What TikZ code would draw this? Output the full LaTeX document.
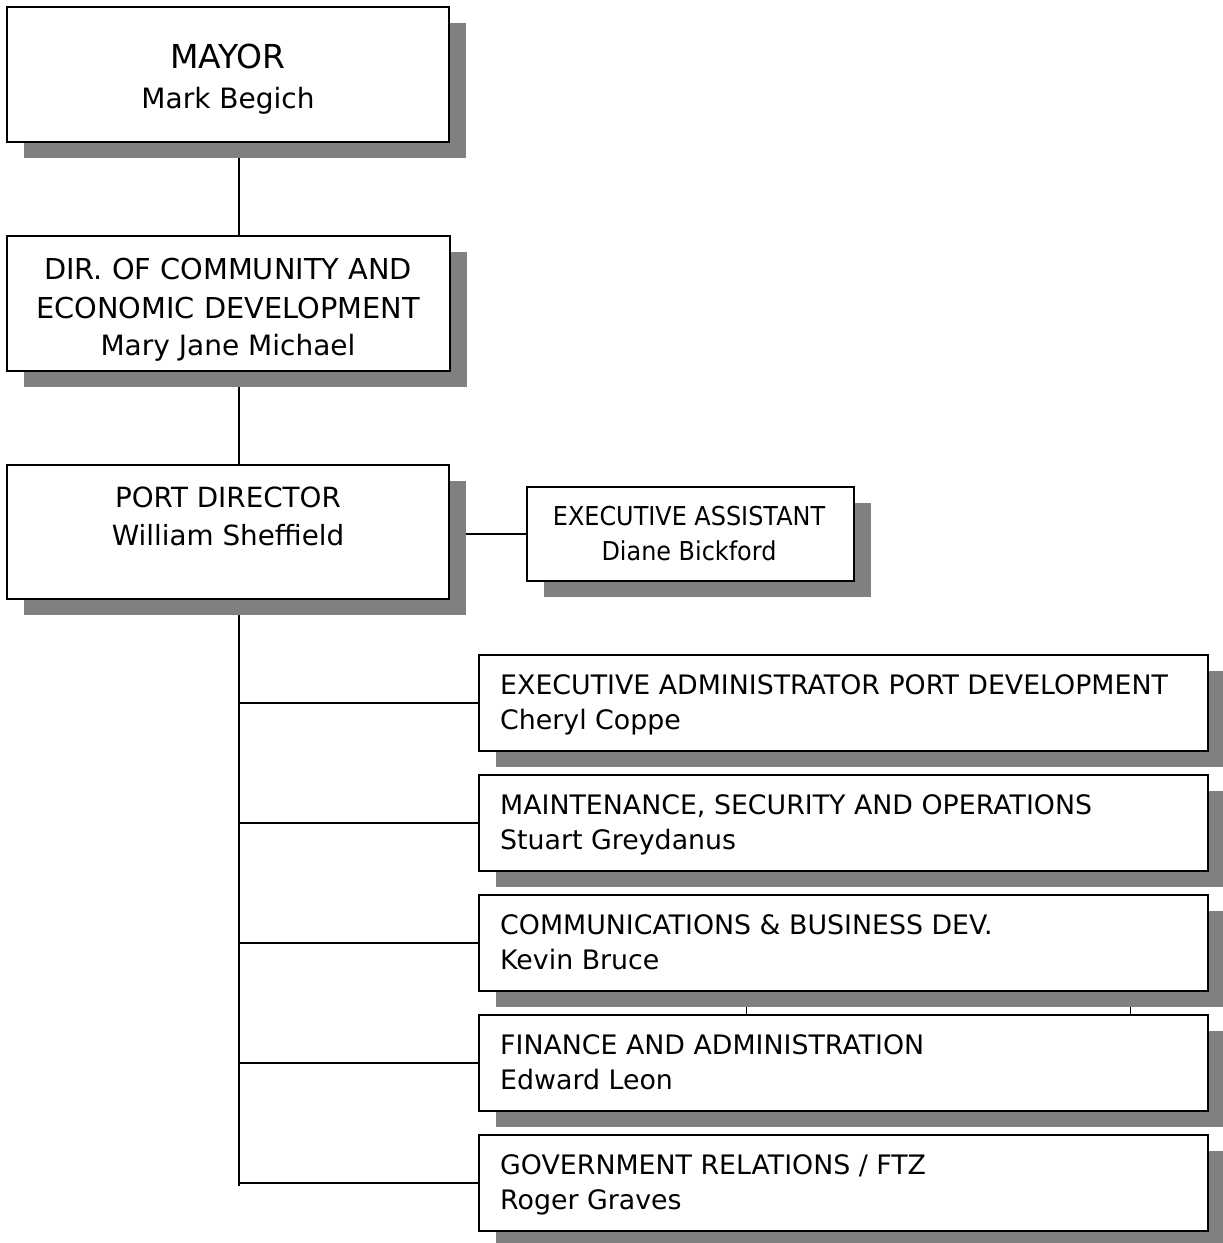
\documentclass[tikz,border=0pt]{standalone}
\usepackage{fontspec}
\setmainfont{DejaVu Sans}
\newfontfamily\narrowfont[FakeStretch=0.92]{DejaVu Sans}
\usetikzlibrary{shadows}
\pgfdeclarelayer{background}
\pgfsetlayers{background,main}
\definecolor{shgray}{HTML}{808080}
\tikzset{
  box/.style={draw=black, line width=1.6pt, fill=white, rectangle, inner sep=0pt,
    drop shadow={shadow xshift=17pt, shadow yshift=-16pt, fill=shgray, opacity=1}},
  conn/.style={line width=1.6pt, draw=black},
  thinconn/.style={line width=1pt, draw=black},
  toptxt/.style={font=\fontsize{28.8}{35}\selectfont, inner sep=0pt, anchor=base},
  porttxt/.style={font=\fontsize{27.8}{33}\selectfont, inner sep=0pt, anchor=base},
  mayortxt/.style={font=\fontsize{33}{40}\selectfont, inner sep=0pt, anchor=base},
  nametxt/.style={font=\fontsize{28}{33}\selectfont, inner sep=0pt, anchor=base},
  asstxt/.style={font=\narrowfont\fontsize{26}{31}\selectfont, inner sep=0pt, anchor=base},
  righttxt/.style={font=\fontsize{26.8}{32}\selectfont, inner sep=0pt, anchor=base west},
  rbox/.style={box, minimum width=729pt, minimum height=96pt}
}
\begin{document}
\begin{tikzpicture}[x=1pt,y=-1pt]
\useasboundingbox (0,0) rectangle (1223,1243);

% boxes
\node[box, minimum width=442pt, minimum height=135pt] (mayor) at (228,74.5) {};
\node[box, minimum width=443pt, minimum height=135pt] (dir) at (228.5,303.5) {};
\node[box, minimum width=442pt, minimum height=134pt] (port) at (228,532) {};
\node[box, minimum width=327pt, minimum height=94pt] (assist) at (690.5,534) {};
\node[rbox] (r1) at (843.5,703) {};
\node[rbox] (r2) at (843.5,823) {};
\node[rbox] (r3) at (843.5,943) {};
\node[rbox, line width=2.4pt] (r4) at (843.5,1063) {};
\node[rbox] (r5) at (843.5,1183) {};

% texts
\node[mayortxt] (mayorA) at (228,68) {MAYOR};
\node[nametxt] (mayorB) at (228,108) {Mark Begich};
\node[toptxt] (dirA) at (228,279) {DIR. OF COMMUNITY AND};
\node[toptxt] (dirB) at (228,318) {ECONOMIC DEVELOPMENT};
\node[nametxt] (dirC) at (228,355) {Mary Jane Michael};
\node[porttxt] (portA) at (228,507) {PORT DIRECTOR};
\node[porttxt] (portB) at (228,545) {William Sheffield};
\node[asstxt] (assA) at (689,525) {EXECUTIVE ASSISTANT};
\node[asstxt] (assB) at (689,560) {Diane Bickford};
\node[righttxt] (r1A) at (500,694) {EXECUTIVE ADMINISTRATOR PORT DEVELOPMENT};
\node[righttxt] (r1B) at (500,729) {Cheryl Coppe};
\node[righttxt] (r2A) at (500,814) {MAINTENANCE, SECURITY AND OPERATIONS};
\node[righttxt] (r2B) at (500,849) {Stuart Greydanus};
\node[righttxt] (r3A) at (500,934) {COMMUNICATIONS \& BUSINESS DEV.};
\node[righttxt] (r3B) at (500,969) {Kevin Bruce};
\node[righttxt] (r4A) at (500,1054) {FINANCE AND ADMINISTRATION};
\node[righttxt] (r4B) at (500,1089) {Edward Leon};
\node[righttxt] (r5A) at (500,1174) {GOVERNMENT RELATIONS / FTZ};
\node[righttxt] (r5B) at (500,1209) {Roger Graves};

% connectors
\coordinate (spx) at (239,0);
\coordinate (spend) at (239,1186);
\coordinate (tA) at (746,0);
\coordinate (tB) at (1130,0);
\begin{pgfonlayer}{background}
\draw[conn] (mayor.south -| spx) -- (dir.north -| spx);
\draw[conn] (dir.south -| spx) -- (port.north -| spx);
\draw[conn] (port.south -| spx) -- (spend);
\draw[conn] (port.east |- assist.west) -- (assist.west);
\draw[conn] (r1.west -| spx) -- (r1.west);
\draw[conn] (r2.west -| spx) -- (r2.west);
\draw[conn] (r3.west -| spx) -- (r3.west);
\draw[conn] (r4.west -| spx) -- (r4.west);
\draw[conn] (r5.west -| spx) -- (r5.west);
\draw[thinconn] (r3.south -| tA) -- (r4.north -| tA);
\draw[thinconn] (r3.south -| tB) -- (r4.north -| tB);
\end{pgfonlayer}
\end{tikzpicture}
\end{document}
